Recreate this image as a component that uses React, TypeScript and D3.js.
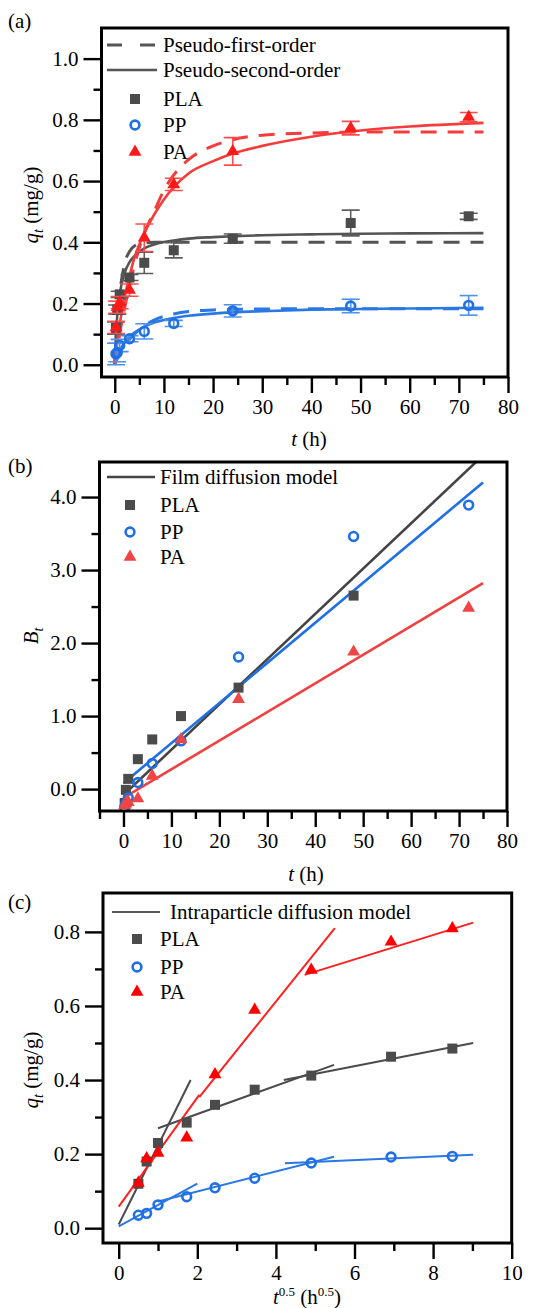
import React, { useRef, useLayoutEffect } from 'react';
import * as d3 from 'd3';

const FONT = '"Liberation Serif", "Times New Roman", Times, serif';

// sampling times (h) and their square roots (h^0.5)
const timeH = [0.25, 0.5, 1, 3, 6, 12, 24, 48, 72];
const sqrtTime = [0.5, 0.71, 1, 1.73, 2.45, 3.46, 4.9, 6.93, 8.49];

// q_t (mg/g)
const qPLA = [0.12, 0.18, 0.23, 0.285, 0.333, 0.374, 0.412, 0.463, 0.485];
const qPP = [0.035, 0.04, 0.063, 0.085, 0.109, 0.135, 0.176, 0.192, 0.194];
const qPA = [0.122, 0.188, 0.203, 0.244, 0.415, 0.589, 0.697, 0.773, 0.809];

// error bars in (a)
const errPLA = [0.02, 0.015, 0.01, 0.01, 0.035, 0.025, 0.015, 0.042, 0.01];
const errPP = [0.035, 0.03, 0.02, 0.01, 0.025, 0.01, 0.02, 0.022, 0.032];
const errPA = [0.02, 0.02, 0.02, 0.02, 0.045, 0.02, 0.045, 0.022, 0.015];

// fitted curves
const fitT = [0, 0.25, 0.5, 1, 2, 3, 4, 6, 8, 10, 12, 15, 20, 24, 30, 40, 50, 60, 75];
const pfoPLA = [0, 0.08, 0.14, 0.23, 0.33, 0.37, 0.388, 0.398, 0.4, 0.4, 0.4, 0.4, 0.4, 0.4, 0.4, 0.4, 0.4, 0.4, 0.4];
const psoPLA = [0, 0.1, 0.16, 0.23, 0.3, 0.335, 0.355, 0.38, 0.393, 0.401, 0.406, 0.412, 0.417, 0.42, 0.423, 0.426, 0.428, 0.429, 0.43];
const pfoPP = [0, 0.01, 0.02, 0.035, 0.06, 0.083, 0.1, 0.127, 0.146, 0.158, 0.166, 0.174, 0.179, 0.181, 0.182, 0.183, 0.183, 0.183, 0.183];
const psoPP = [0, 0.014, 0.025, 0.045, 0.073, 0.092, 0.105, 0.124, 0.138, 0.146, 0.153, 0.16, 0.167, 0.171, 0.175, 0.18, 0.182, 0.184, 0.186];
const pfoPA = [0, 0.03, 0.05, 0.1, 0.185, 0.26, 0.325, 0.43, 0.5, 0.57, 0.62, 0.67, 0.715, 0.735, 0.75, 0.757, 0.76, 0.76, 0.76];
const psoPA = [0, 0.04, 0.07, 0.13, 0.22, 0.29, 0.35, 0.43, 0.49, 0.54, 0.58, 0.625, 0.665, 0.69, 0.715, 0.745, 0.765, 0.778, 0.79];

// B_t in (b)
const btTimePLA = [0.25, 0.5, 1, 3, 6, 12, 24, 48];
const btPLA = [-0.19, -0.01, 0.14, 0.41, 0.68, 1.0, 1.39, 2.65];
const btPP = [-0.25, -0.2, -0.12, 0.09, 0.35, 0.66, 1.81, 3.46, 3.89];
const btPA = [-0.22, -0.2, -0.18, -0.13, 0.18, 0.68, 1.23, 1.88, 2.48];
const filmT = [0, 75];
const filmPLA = [-0.08, 4.57];
const filmPP = [0.08, 4.2];
const filmPA = [-0.12, 2.82];

// intraparticle diffusion segments in (c)
const ipdPLA = [
  { s: [0, 1.83], q: [0.01, 0.4] },
  { s: [1.0, 5.48], q: [0.27, 0.441] },
  { s: [4.2, 9.02], q: [0.4, 0.5] },
];
const ipdPP = [
  { s: [0, 2.0], q: [0.005, 0.12] },
  { s: [1.0, 5.48], q: [0.072, 0.193] },
  { s: [4.23, 9.02], q: [0.175, 0.198] },
];
const ipdPA = [
  { s: [0, 2.05], q: [0.058, 0.36] },
  { s: [2.05, 5.5], q: [0.354, 0.81] },
  { s: [4.73, 9.02], q: [0.684, 0.825] },
];

const GRAY = '#4b4b4b';
const BLUE = '#1f6fe5';
const RED = '#ff1a1a';

function marker(g: any, kind: string, cx: number, cy: number, color: string) {
  if (kind === 'square') {
    g.append('rect').attr('x', cx - 5).attr('y', cy - 5).attr('width', 10).attr('height', 10).attr('fill', color);
  } else if (kind === 'circle') {
    g.append('circle').attr('cx', cx).attr('cy', cy).attr('r', 4.4)
      .attr('fill', 'none').attr('stroke', color).attr('stroke-width', 2.6);
  } else {
    g.append('path').attr('d', d3.symbol(d3.symbolTriangle, 72)())
      .attr('transform', `translate(${cx},${cy})`).attr('fill', color);
  }
}

function axes(svg: any, x: any, y: any, o: any) {
  const [x0, x1] = x.range();
  const [y0, y1] = y.range();
  const g = svg.append('g');
  g.append('g').attr('transform', `translate(0,${y0})`)
    .call(d3.axisBottom(x).tickValues(o.xMinor).tickSize(8).tickFormat(() => ''));
  g.append('g').attr('transform', `translate(0,${y0})`)
    .call(d3.axisBottom(x).tickValues(o.xMajor).tickSize(16).tickPadding(6).tickFormat(d3.format('d')));
  g.append('g').attr('transform', `translate(${x0},0)`)
    .call(d3.axisLeft(y).tickValues(o.yMinor).tickSize(8).tickFormat(() => ''));
  g.append('g').attr('transform', `translate(${x0},0)`)
    .call(d3.axisLeft(y).tickValues(o.yMajor).tickSize(18).tickPadding(5).tickFormat(d3.format('.1f')));
  g.selectAll('.domain').remove();
  g.selectAll('.tick line').attr('stroke', '#000').attr('stroke-width', 2.4);
  g.selectAll('.tick text').attr('font-family', FONT).attr('font-size', 21).attr('fill', '#000');
  svg.append('rect').attr('x', x0).attr('y', y1).attr('width', x1 - x0).attr('height', y0 - y1)
    .attr('fill', 'none').attr('stroke', '#000').attr('stroke-width', 3);
}

function clip(svg: any, id: string, x: any, y: any) {
  const [x0, x1] = x.range();
  const [y0, y1] = y.range();
  svg.append('clipPath').attr('id', id).append('rect')
    .attr('x', x0).attr('y', y1).attr('width', x1 - x0).attr('height', y0 - y1);
  return svg.append('g').attr('clip-path', `url(#${id})`);
}

function label(svg: any, x: number, y: number, txt: string, anchor = 'start') {
  return svg.append('text').attr('x', x).attr('y', y).attr('text-anchor', anchor)
    .attr('font-family', FONT).attr('font-size', 21).attr('fill', '#000').text(txt);
}

function yTitle(svg: any, cy: number, main: string, rest: string) {
  const t = svg.append('text').attr('transform', `translate(38,${cy}) rotate(-90)`)
    .attr('text-anchor', 'middle').attr('font-family', FONT).attr('font-size', 21);
  t.append('tspan').attr('font-style', 'italic').text(main);
  t.append('tspan').attr('font-style', 'italic').attr('font-size', 14).attr('dy', 5).text('t');
  if (rest) t.append('tspan').attr('dy', -5).text(rest);
}

function tTitle(svg: any, cx: number, y: number) {
  const t = svg.append('text').attr('x', cx).attr('y', y).attr('text-anchor', 'middle')
    .attr('font-family', FONT).attr('font-size', 21);
  t.append('tspan').attr('font-style', 'italic').text('t');
  t.append('tspan').text(' (h)');
}

function drawKinetics(svg: any) {
  const x = d3.scaleLinear().domain([-2.7, 80]).range([101.5, 508]);
  const y = d3.scaleLinear().domain([-0.04, 1.1]).range([377, 28]);
  const g = clip(svg, 'clipA', x, y);
  const line = d3.line<number>().x((_, i) => x(fitT[i])).y(d => y(d)).curve(d3.curveMonotoneX);
  const series = [
    { q: qPLA, err: errPLA, pfo: pfoPLA, pso: psoPLA, kind: 'square', c: GRAY, lc: '#545454', ec: '#5e5e5e' },
    { q: qPP, err: errPP, pfo: pfoPP, pso: psoPP, kind: 'circle', c: BLUE, lc: '#2a78e4', ec: '#4f90ea' },
    { q: qPA, err: errPA, pfo: pfoPA, pso: psoPA, kind: 'triangle', c: RED, lc: '#f53c3c', ec: '#ff4d4d' },
  ];
  series.forEach(s => {
    g.append('path').attr('d', line(s.pfo)).attr('fill', 'none').attr('stroke', s.lc)
      .attr('stroke-width', 3).attr('stroke-dasharray', '16,11');
    g.append('path').attr('d', line(s.pso)).attr('fill', 'none').attr('stroke', s.lc).attr('stroke-width', 2.6);
  });
  series.forEach(s => {
    timeH.forEach((t, i) => {
      const cx = x(t);
      const hi = y(s.q[i] + s.err[i]);
      const lo = y(s.q[i] - s.err[i]);
      const e = g.append('g').attr('stroke', s.ec).attr('stroke-width', 1.6);
      e.append('line').attr('x1', cx).attr('x2', cx).attr('y1', hi).attr('y2', lo);
      e.append('line').attr('x1', cx - 9).attr('x2', cx + 9).attr('y1', hi).attr('y2', hi);
      e.append('line').attr('x1', cx - 9).attr('x2', cx + 9).attr('y1', lo).attr('y2', lo);
    });
    timeH.forEach((t, i) => marker(g, s.kind, x(t), y(s.q[i]), s.c));
  });
  axes(svg, x, y, {
    xMajor: d3.range(0, 81, 10), xMinor: d3.range(5, 80, 10),
    yMajor: [0, 0.2, 0.4, 0.6, 0.8, 1.0], yMinor: [0.1, 0.3, 0.5, 0.7, 0.9],
  });
  // legend
  svg.append('line').attr('x1', 107).attr('x2', 157).attr('y1', 45).attr('y2', 45)
    .attr('stroke', '#555').attr('stroke-width', 3).attr('stroke-dasharray', '15,18');
  label(svg, 163, 52, 'Pseudo-first-order');
  svg.append('line').attr('x1', 107).attr('x2', 157).attr('y1', 70).attr('y2', 70)
    .attr('stroke', '#555').attr('stroke-width', 2.6);
  label(svg, 163, 77, 'Pseudo-second-order');
  marker(svg, 'square', 135, 99, GRAY);
  label(svg, 163, 106, 'PLA');
  marker(svg, 'circle', 135, 125, BLUE);
  label(svg, 163, 132, 'PP');
  marker(svg, 'triangle', 135, 152, RED);
  label(svg, 163, 159, 'PA');

  label(svg, 8, 28, '(a)');
  yTitle(svg, 205, 'q', ' (mg/g)');
  tTitle(svg, 309, 446);
}

function drawFilm(svg: any) {
  const x = d3.scaleLinear().domain([-5, 80]).range([99.5, 507]);
  const y = d3.scaleLinear().domain([-0.3, 4.48]).range([811, 462]);
  const g = clip(svg, 'clipB', x, y);
  const line = d3.line<number>().x((_, i) => x(filmT[i])).y(d => y(d));
  const series = [
    { t: btTimePLA, b: btPLA, fit: filmPLA, kind: 'square', c: GRAY, lc: '#444' },
    { t: timeH, b: btPP, fit: filmPP, kind: 'circle', c: BLUE, lc: '#1f6fe5' },
    { t: timeH, b: btPA, fit: filmPA, kind: 'triangle', c: '#f04545', lc: '#f04040' },
  ];
  series.forEach(s => {
    g.append('path').attr('d', line(s.fit)).attr('fill', 'none').attr('stroke', s.lc).attr('stroke-width', 2.6);
  });
  series.forEach(s => s.t.forEach((t, i) => marker(g, s.kind, x(t), y(s.b[i]), s.c)));
  axes(svg, x, y, {
    xMajor: d3.range(0, 81, 10), xMinor: d3.range(-5, 80, 10),
    yMajor: [0, 1, 2, 3, 4], yMinor: [0.5, 1.5, 2.5, 3.5],
  });
  svg.append('line').attr('x1', 107).attr('x2', 155).attr('y1', 477).attr('y2', 477)
    .attr('stroke', '#444').attr('stroke-width', 2.6);
  label(svg, 160, 484, 'Film diffusion model');
  marker(svg, 'square', 130, 505, GRAY);
  label(svg, 160, 512, 'PLA');
  marker(svg, 'circle', 130, 532, BLUE);
  label(svg, 160, 539, 'PP');
  marker(svg, 'triangle', 130, 557, '#f04545');
  label(svg, 160, 564, 'PA');

  label(svg, 8, 473, '(b)');
  yTitle(svg, 636, 'B', '');
  tTitle(svg, 306, 881);
}

function drawIntra(svg: any) {
  const x = d3.scaleLinear().domain([-0.4, 10]).range([103, 511.7]);
  const y = d3.scaleLinear().domain([-0.04, 0.905]).range([1243, 893]);
  const g = clip(svg, 'clipC', x, y);
  const series = [
    { q: qPLA, seg: ipdPLA, kind: 'square', c: GRAY, lc: '#4b4b4b' },
    { q: qPP, seg: ipdPP, kind: 'circle', c: BLUE, lc: '#2a78e4' },
    { q: qPA, seg: ipdPA, kind: 'triangle', c: '#ff0000', lc: '#ff2020' },
  ];
  series.forEach(s => {
    s.seg.forEach(p => {
      g.append('line').attr('x1', x(p.s[0])).attr('x2', x(p.s[1]))
        .attr('y1', y(p.q[0])).attr('y2', y(p.q[1]))
        .attr('stroke', s.lc).attr('stroke-width', 2);
    });
  });
  series.forEach(s => sqrtTime.forEach((v, i) => marker(g, s.kind, x(v), y(s.q[i]), s.c)));
  axes(svg, x, y, {
    xMajor: [0, 2, 4, 6, 8, 10], xMinor: [1, 3, 5, 7, 9],
    yMajor: [0, 0.2, 0.4, 0.6, 0.8], yMinor: [0.1, 0.3, 0.5, 0.7],
  });
  svg.append('line').attr('x1', 112).attr('x2', 160).attr('y1', 912).attr('y2', 912)
    .attr('stroke', '#555').attr('stroke-width', 2);
  label(svg, 170, 919, 'Intraparticle diffusion model');
  marker(svg, 'square', 137, 939, GRAY);
  label(svg, 160, 946, 'PLA');
  marker(svg, 'circle', 137, 967, BLUE);
  label(svg, 160, 974, 'PP');
  marker(svg, 'triangle', 137, 992, '#ff0000');
  label(svg, 160, 999, 'PA');

  label(svg, 8, 909, '(c)');
  yTitle(svg, 1070, 'q', ' (mg/g)');
  const t = svg.append('text').attr('x', 307).attr('y', 1304).attr('text-anchor', 'middle')
    .attr('font-family', FONT).attr('font-size', 21);
  t.append('tspan').attr('font-style', 'italic').text('t');
  t.append('tspan').attr('font-size', 13).attr('dy', -8).text('0.5');
  t.append('tspan').attr('dy', 8).text(' (h');
  t.append('tspan').attr('font-size', 13).attr('dy', -8).text('0.5');
  t.append('tspan').attr('dy', 8).text(')');
}

const App = () => {
  const svgRef = useRef<SVGSVGElement>(null);
  useLayoutEffect(() => {
    const svg = d3.select(svgRef.current);
    svg.selectAll('*').remove();
    drawKinetics(svg);
    drawFilm(svg);
    drawIntra(svg);
  }, []);

  return (
    <svg
      ref={svgRef}
      width={533}
      height={1308}
      style={{ position: 'absolute', left: 0, top: 0, background: '#fff' }}
    />
  );
};

export default App;
